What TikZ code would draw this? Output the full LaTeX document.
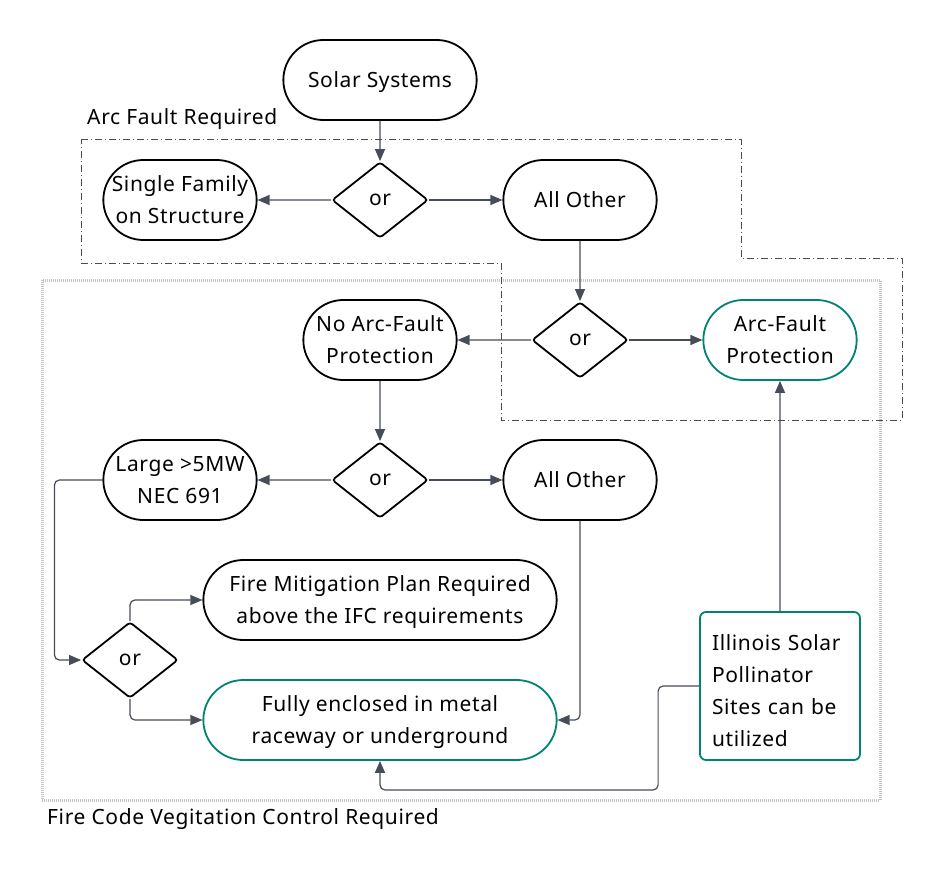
\documentclass[tikz,border=0pt]{standalone}
\usepackage{fontspec}
\setmainfont{Noto Sans}[LetterSpace=3]
\usetikzlibrary{shapes.geometric,shapes.misc,arrows.meta}
\definecolor{passgreen}{RGB}{0,131,112}
\definecolor{linegray}{RGB}{70,76,88}

\begin{document}
\begin{tikzpicture}[x=1pt,y=-1pt,font=\fontsize{21}{32}\selectfont,
	term/.style={rounded rectangle, draw, fill=white, line width=1.8pt, align=center, text depth=0pt, minimum width=160pt, minimum height=80pt},
	wide/.style={term, minimum width=360pt},
	choice/.style={diamond, draw, fill=white, line width=1.8pt, rounded corners=3pt, minimum width=96pt, minimum height=76pt, inner sep=0pt},
	conn/.style={draw=linegray, line width=1.2pt, rounded corners=5pt, -{Triangle[length=12pt,width=10pt]}}]
	\useasboundingbox (0,0) rectangle (941,877);
	% regions
	\draw[gray!45, line width=3pt, dash pattern=on 1pt off 1pt] (42,280) rectangle (880,800);
	\draw[linegray, line width=1pt, dash pattern=on 7pt off 3pt on 1pt off 3pt] (81,140) -- (741,140) -- (741,258) -- (902,258) -- (902,420) -- (501,420) -- (501,263) -- (81,263) -- cycle;
	\node[anchor=west, inner sep=0pt] (arclabel) at (87,119) {Arc Fault Required};
	\node[anchor=west, inner sep=0pt] (firelabel) at (47,819) {Fire Code Vegitation Control Required};
	% nodes
	\node[term, minimum width=200pt] (solar) at (380,80) {Solar Systems};
	\node[choice] (or1) at (380,200) {or};
	\node[term] (single) at (180,200) {Single Family\\on Structure};
	\node[term] (other1) at (580,200) {All Other};
	\node[choice] (or2) at (580,340) {or};
	\node[term] (noarc) at (380,340) {No Arc-Fault\\Protection};
	\node[term, draw=passgreen] (arc) at (780,340) {Arc-Fault\\Protection};
	\node[choice] (or3) at (380,480) {or};
	\node[term] (large) at (180,480) {Large >5MW\\NEC 691};
	\node[term] (other2) at (580,480) {All Other};
	\node[choice] (or4) at (130,660) {or};
	\node[wide] (plan) at (380,600) {Fire Mitigation Plan Required\\above the IFC requirements};
	\node[wide, draw=passgreen] (metal) at (380,720) {Fully enclosed in metal\\raceway or underground};
	\node[rectangle, draw=passgreen, fill=white, line width=1.8pt, rounded corners=6pt, minimum width=160pt, minimum height=148pt, text width=136pt, text depth=86pt, inner sep=0pt, align=left] (illinois) at (780,686) {Illinois Solar\\Pollinator\\Sites can be\\utilized};
	% connectors
	\draw[conn] (solar) -- (or1);
	\draw[conn] (or1) -- (single);
	\draw[conn] (or1) -- (other1);
	\draw[conn] (other1) -- (or2);
	\draw[conn] (or2) -- (noarc);
	\draw[conn] (or2) -- (arc);
	\draw[conn] (noarc) -- (or3);
	\draw[conn] (or3) -- (large);
	\draw[conn] (or3) -- (other2);
	\draw[conn] (large.west) -- ++(-48,0) |- (or4.west);
	\draw[conn] (or4.north) |- (plan.west);
	\draw[conn] (or4.south) |- (metal.west);
	\draw[conn] (other2.south) |- (metal.east);
	\draw[conn] (illinois.west) -- ++(-41,0) -- ++(0,104) -| (metal.south);
	\draw[conn] (illinois) -- (arc);
\end{tikzpicture}
\end{document}
